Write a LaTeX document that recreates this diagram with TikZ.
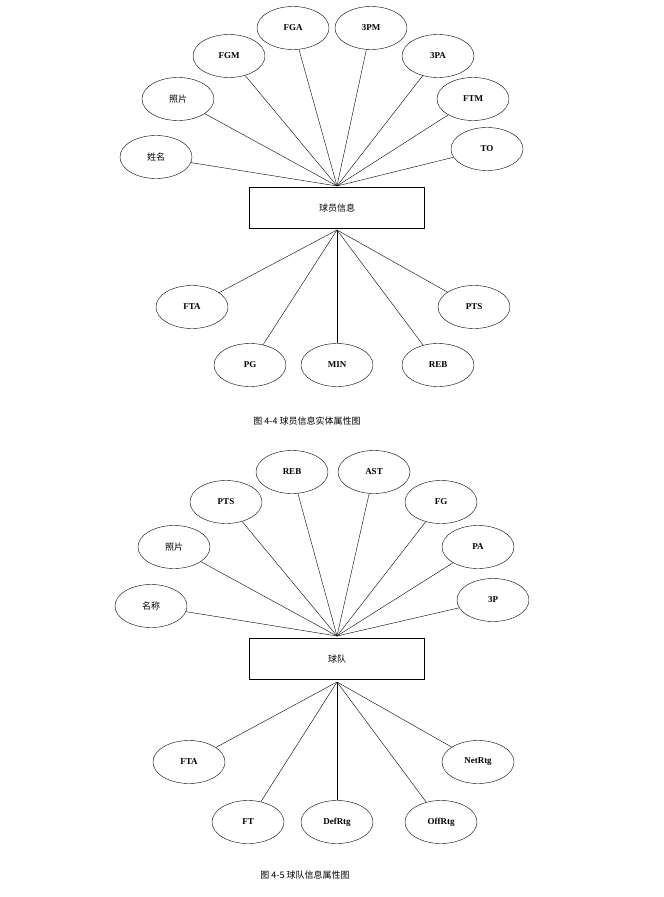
\documentclass[tikz,border=0pt]{standalone}
\usepackage{fontspec}
\setmainfont{Liberation Serif}
\newfontfamily\cjk{Noto Sans CJK SC}
\usetikzlibrary{shapes.geometric}
\begin{document}
\begin{tikzpicture}[x=1pt, y=-1pt,
attr/.style={ellipse, draw, minimum width=72pt, minimum height=43pt, inner sep=0pt, font=\small\bfseries},
ent/.style={rectangle, draw, minimum width=175pt, minimum height=41pt, font=\small\cjk},
caption/.style={font=\small\cjk}]
\useasboundingbox (0,0) rectangle (664,897);
% player entity
\node [ent] (player) at (337,208) {球员信息};
\coordinate (pt) at (337,186);
\coordinate (pb) at (337,230);
\node [attr, font=\small\cjk] (pname) at (156,157) {姓名};
\node [attr, font=\small\cjk] (pphoto) at (178,99) {照片};
\node [attr] (fgm) at (229,56) {FGM};
\node [attr] (fga) at (293,28) {FGA};
\node [attr] (tpm) at (371,28) {3PM};
\node [attr] (tpa) at (438,56) {3PA};
\node [attr] (ftm) at (473,99) {FTM};
\node [attr] (to) at (487,149) {TO};
\node [attr] (pfta) at (192,307) {FTA};
\node [attr] (pg) at (250,365) {PG};
\node [attr] (min) at (337,365) {MIN};
\node [attr] (preb) at (438,365) {REB};
\node [attr] (ppts) at (474,307) {PTS};
\foreach \n in {pname, pphoto, fgm, fga, tpm, tpa, ftm, to}
  \draw (pt) -- (\n);
\foreach \n in {pfta, pg, min, preb, ppts}
  \draw (pb) -- (\n);
\node [caption] (cap1) at (307,421) {图 4-4 球员信息实体属性图};
% team entity
\node [ent] (team) at (337,659) {球队};
\coordinate (tt) at (337,636);
\coordinate (tb) at (337,682);
\node [attr, font=\small\cjk] (tname) at (151,606) {名称};
\node [attr, font=\small\cjk] (tphoto) at (174,547) {照片};
\node [attr] (tpts) at (226,502) {PTS};
\node [attr] (treb) at (292,472) {REB};
\node [attr] (ast) at (374,472) {AST};
\node [attr] (fg) at (441,502) {FG};
\node [attr] (pa) at (478,547) {PA};
\node [attr] (tp) at (493,600) {3P};
\node [attr] (tfta) at (189,762) {FTA};
\node [attr] (ft) at (248,822) {FT};
\node [attr] (def) at (337,822) {DefRtg};
\node [attr] (off) at (441,822) {OffRtg};
\node [attr] (net) at (478,762) {NetRtg};
\foreach \n in {tname, tphoto, tpts, treb, ast, fg, pa, tp}
  \draw (tt) -- (\n);
\foreach \n in {tfta, ft, def, off, net}
  \draw (tb) -- (\n);
\node [caption] (cap2) at (305,875) {图 4-5 球队信息属性图};
\end{tikzpicture}
\end{document}
